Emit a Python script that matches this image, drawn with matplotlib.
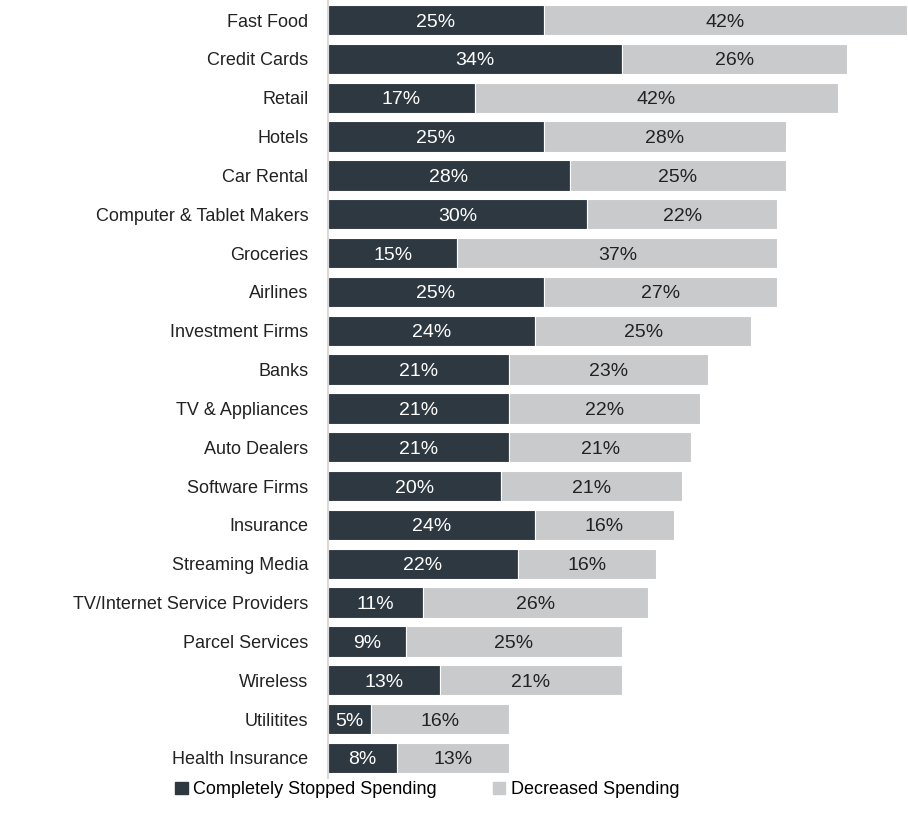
import matplotlib.pyplot as plt
from matplotlib.patches import Patch

categories = ["Fast Food", "Credit Cards", "Retail", "Hotels", "Car Rental",
              "Computer & Tablet Makers", "Groceries", "Airlines", "Investment Firms",
              "Banks", "TV & Appliances", "Auto Dealers", "Software Firms", "Insurance",
              "Streaming Media", "TV/Internet Service Providers", "Parcel Services",
              "Wireless", "Utilitites", "Health Insurance"]
stopped = [25, 34, 17, 25, 28, 30, 15, 25, 24, 21, 21, 21, 20, 24, 22, 11, 9, 13, 5, 8]
decreased = [42, 26, 42, 28, 25, 22, 37, 27, 25, 23, 22, 21, 21, 16, 16, 26, 25, 21, 16, 13]

dark = "#2e3840"
light = "#c8cacc"

plt.rcParams['font.family'] = ['Liberation Sans', 'DejaVu Sans']

fig = plt.figure(figsize=(9.08, 8.27), dpi=100)
ax = fig.add_axes([0.361, 0.0593, 0.639, 0.9407])

y = list(range(len(categories)))
ax.barh(y, stopped, height=0.78, color=dark, edgecolor="white", linewidth=0.8)
ax.barh(y, decreased, left=stopped, height=0.78, color=light, edgecolor="white", linewidth=0.8)

# value labels centred in each segment
for i, (s, d) in enumerate(zip(stopped, decreased)):
    ax.text(s / 2, i, f"{s}%", ha="center", va="center_baseline", color="white", fontsize=14)
    ax.text(s + d / 2, i, f"{d}%", ha="center", va="center_baseline", color="#222222", fontsize=14)

ax.set_xlim(0, 67.1)
ax.set_ylim(19.515, -0.515)
ax.set_yticks(y)
ax.set_yticklabels(categories, fontsize=13, color="#222222")
ax.tick_params(axis="y", length=0, pad=14)
ax.set_xticks([])
for side in ["top", "right", "bottom"]:
    ax.spines[side].set_visible(False)
ax.spines["left"].set_color("#d9d9d9")
ax.spines["left"].set_linewidth(1.5)

handles = [Patch(color=dark, label="Completely Stopped Spending"),
           Patch(color=light, label="Decreased Spending")]
fig.legend(handles=handles, loc="center left", bbox_to_anchor=(0.175, 0.045), ncol=2,
           frameon=False, fontsize=13, handlelength=0.7, handleheight=0.7,
           handletextpad=0.3, columnspacing=3.1)

fig.savefig("out.png", dpi=100)
